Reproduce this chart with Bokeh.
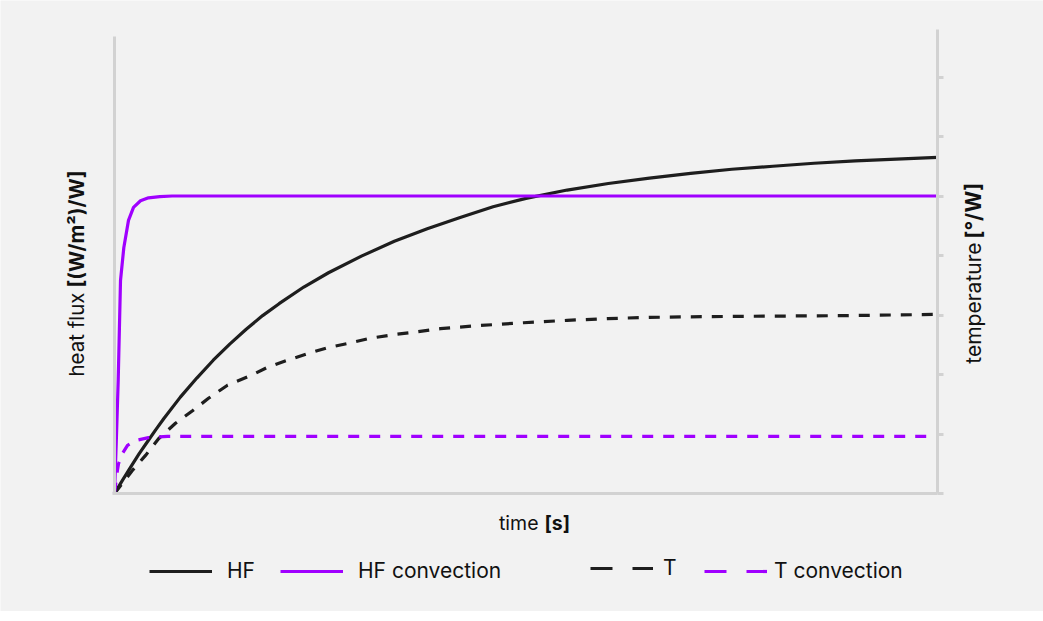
import math
from bokeh.plotting import figure
from bokeh.models import Range1d, LinearAxis, FixedTicker, Label, Legend, LegendItem
from bokeh.embed import file_html
from bokeh.resources import INLINE

# ---- data (time in % of span, values in right-axis tick units)
time_hf = [0, 1, 2, 3, 4, 5, 6, 8, 10, 12, 14, 16, 18, 20, 23, 26, 30, 34, 38, 42, 46, 50,
           55, 60, 65, 70, 75, 80, 85, 90, 95, 100]
hf = [0, 0.23, 0.45, 0.67, 0.87, 1.07, 1.26, 1.62, 1.94, 2.24, 2.51, 2.76, 2.99, 3.19, 3.47,
      3.71, 3.99, 4.24, 4.45, 4.64, 4.82, 4.96, 5.10, 5.21, 5.30, 5.38, 5.45, 5.50, 5.55,
      5.59, 5.62, 5.65]

time_hfc = [0, 0.2, 0.45, 0.73, 1.13, 1.7, 2.31, 3.16, 4.13, 5.5, 7, 100]
hf_conv = [0, 0.8, 1.9, 3.58, 4.13, 4.59, 4.81, 4.92, 4.97, 4.99, 5.0, 5.0]

time_t = [0, 2.19, 3.77, 5.35, 7.41, 9.48, 11.42, 13.73, 16.52, 18.59, 21.02, 23.45, 25.88,
          28.31, 31.1, 33.9, 36.33, 39.6, 44, 49.7, 55, 59.9, 65, 70, 78.9, 89.1, 100]
temp = [0, 0.39, 0.64, 0.92, 1.18, 1.39, 1.60, 1.82, 1.98, 2.12, 2.24, 2.35, 2.45, 2.52,
        2.61, 2.67, 2.71, 2.77, 2.82, 2.87, 2.91, 2.94, 2.96, 2.97, 2.98, 2.99, 3.01]

time_tc = [0, 0.36, 0.49, 1.0, 1.58, 2.55, 4.13, 6.44, 100]
temp_conv = [0, 0.39, 0.50, 0.68, 0.81, 0.89, 0.94, 0.96, 0.96]

right_ticks = [0, 1, 2, 3, 4, 5, 6, 7]
series_labels = ["HF", "HF convection", "T", "T convection"]

BG = "#f2f2f2"
AX = "#d2d2d2"
BLACK = "#1e1e1e"
PURPLE = "#a000ff"
FONT = "Inter"

W, H = 1043, 611
# pixel layout of the data area inside the canvas
X0_PX, X1_PX = 114, 937      # t = 0 .. 100
Y0_PX, UNIT_PX = 493, 59.5   # v = 0 at Y0_PX, one unit = UNIT_PX
PX_PER_T = (X1_PX - X0_PX) / 100.0

x_start = (0 - X0_PX) / PX_PER_T
x_end = (W - X0_PX) / PX_PER_T
y_start = (Y0_PX - H) / UNIT_PX
y_end = (Y0_PX - 0) / UNIT_PX
y_top_right = (Y0_PX - 29) / UNIT_PX
y_top_left = (Y0_PX - 36) / UNIT_PX

p = figure(width=W, height=H, x_range=Range1d(x_start, x_end), y_range=Range1d(y_start, y_end),
           output_backend="svg", toolbar_location=None,
           x_axis_location=None, y_axis_location=None,
           min_border_left=0, min_border_right=0, min_border_top=0, min_border_bottom=0,
           background_fill_color=BG, border_fill_color=BG, outline_line_color=None)
p.xgrid.visible = False
p.ygrid.visible = False


def make_axis(ticks, loc, bounds):
    ax = LinearAxis(ticker=FixedTicker(ticks=ticks), fixed_location=loc, bounds=bounds)
    ax.axis_line_color = AX
    ax.axis_line_width = 3
    ax.major_tick_line_color = None
    ax.minor_tick_line_color = None
    ax.major_tick_out = 0
    ax.major_tick_in = 0
    ax.minor_tick_out = 0
    ax.minor_tick_in = 0
    ax.major_label_text_font_size = "0px"
    ax.major_label_text_color = None
    ax.major_label_standoff = 0
    ax.axis_label_standoff = 0
    return ax


bottom_ax = make_axis([], 0, (-0.2, 100))
left_ax = make_axis([], 0, (0, y_top_left))
right_ax = make_axis(right_ticks, 100, (0, y_top_right))
right_ax.major_tick_line_color = AX
right_ax.major_tick_line_width = 3
right_ax.major_tick_out = 6
p.add_layout(bottom_ax, "below")
p.add_layout(left_ax, "left")
p.add_layout(right_ax, "right")

# ---- series
p.line(time_hf, hf, line_color=BLACK, line_width=3.2)
p.line(time_hfc, hf_conv, line_color=PURPLE, line_width=3.2)
p.line(time_t, temp, line_color=BLACK, line_width=3.2, line_dash="11 10")
p.line(time_tc, temp_conv, line_color=PURPLE, line_width=3.2, line_dash="11 10")

# ---- legend (separate entries placed like the reference); single-point lines draw nothing
leg_r = [
    p.line(time_hf[:1], hf[:1], line_color=BLACK, line_width=3.2),
    p.line(time_hfc[:1], hf_conv[:1], line_color=PURPLE, line_width=3.2),
    p.line(time_t[:1], temp[:1], line_color=BLACK, line_width=3.2, line_dash="22 20"),
    p.line(time_tc[:1], temp_conv[:1], line_color=PURPLE, line_width=3.2, line_dash="22 20"),
]
leg_x = [149, 280, 590, 704]
leg_y = [H - 583, H - 583, H - 580, H - 583]
leg_standoff = [15, 15, 10, 7]
for lab, r, lx, ly, so in zip(series_labels, leg_r, leg_x, leg_y, leg_standoff):
    lg = Legend(items=[LegendItem(label=lab, renderers=[r])], location=(lx, ly),
                orientation="horizontal", padding=0, margin=0, border_line_color=None,
                background_fill_alpha=0, glyph_width=63, glyph_height=20,
                label_standoff=so, label_text_font=FONT, label_text_font_size="21px",
                label_text_color="#111111")
    p.add_layout(lg, "center")

# ---- axis titles (regular + bold parts)
lab_kw = dict(x_units="data", y_units="data", text_font=FONT,
              text_color="#111111", text_baseline="middle")
p.add_layout(Label(x=0, y=0, x_offset=538 - X0_PX, y_offset=Y0_PX - 522, text="time",
                   text_align="right", text_font_size="19.5px", **lab_kw))
p.add_layout(Label(x=0, y=0, x_offset=544 - X0_PX, y_offset=Y0_PX - 522, text="[s]",
                   text_align="left", text_font_style="bold", text_font_size="19.5px", **lab_kw))
p.add_layout(Label(x=0, y=0, x_offset=76 - X0_PX, y_offset=Y0_PX - 292, text="heat flux",
                   angle=math.pi / 2, text_align="right", text_font_size="20.5px", **lab_kw))
p.add_layout(Label(x=0, y=0, x_offset=76 - X0_PX, y_offset=Y0_PX - 287, text="[(W/m²)/W]",
                   angle=math.pi / 2, text_align="left", text_font_style="bold",
                   text_font_size="20.5px", **lab_kw))
p.add_layout(Label(x=0, y=0, x_offset=973 - X0_PX, y_offset=Y0_PX - 242, text="temperature",
                   angle=math.pi / 2, text_align="right", text_font_size="21px", **lab_kw))
p.add_layout(Label(x=0, y=0, x_offset=973 - X0_PX, y_offset=Y0_PX - 238, text="[°/W]",
                   angle=math.pi / 2, text_align="left", text_font_style="bold",
                   text_font_size="21px", **lab_kw))

open("out.html", "w").write(file_html(p, INLINE))
